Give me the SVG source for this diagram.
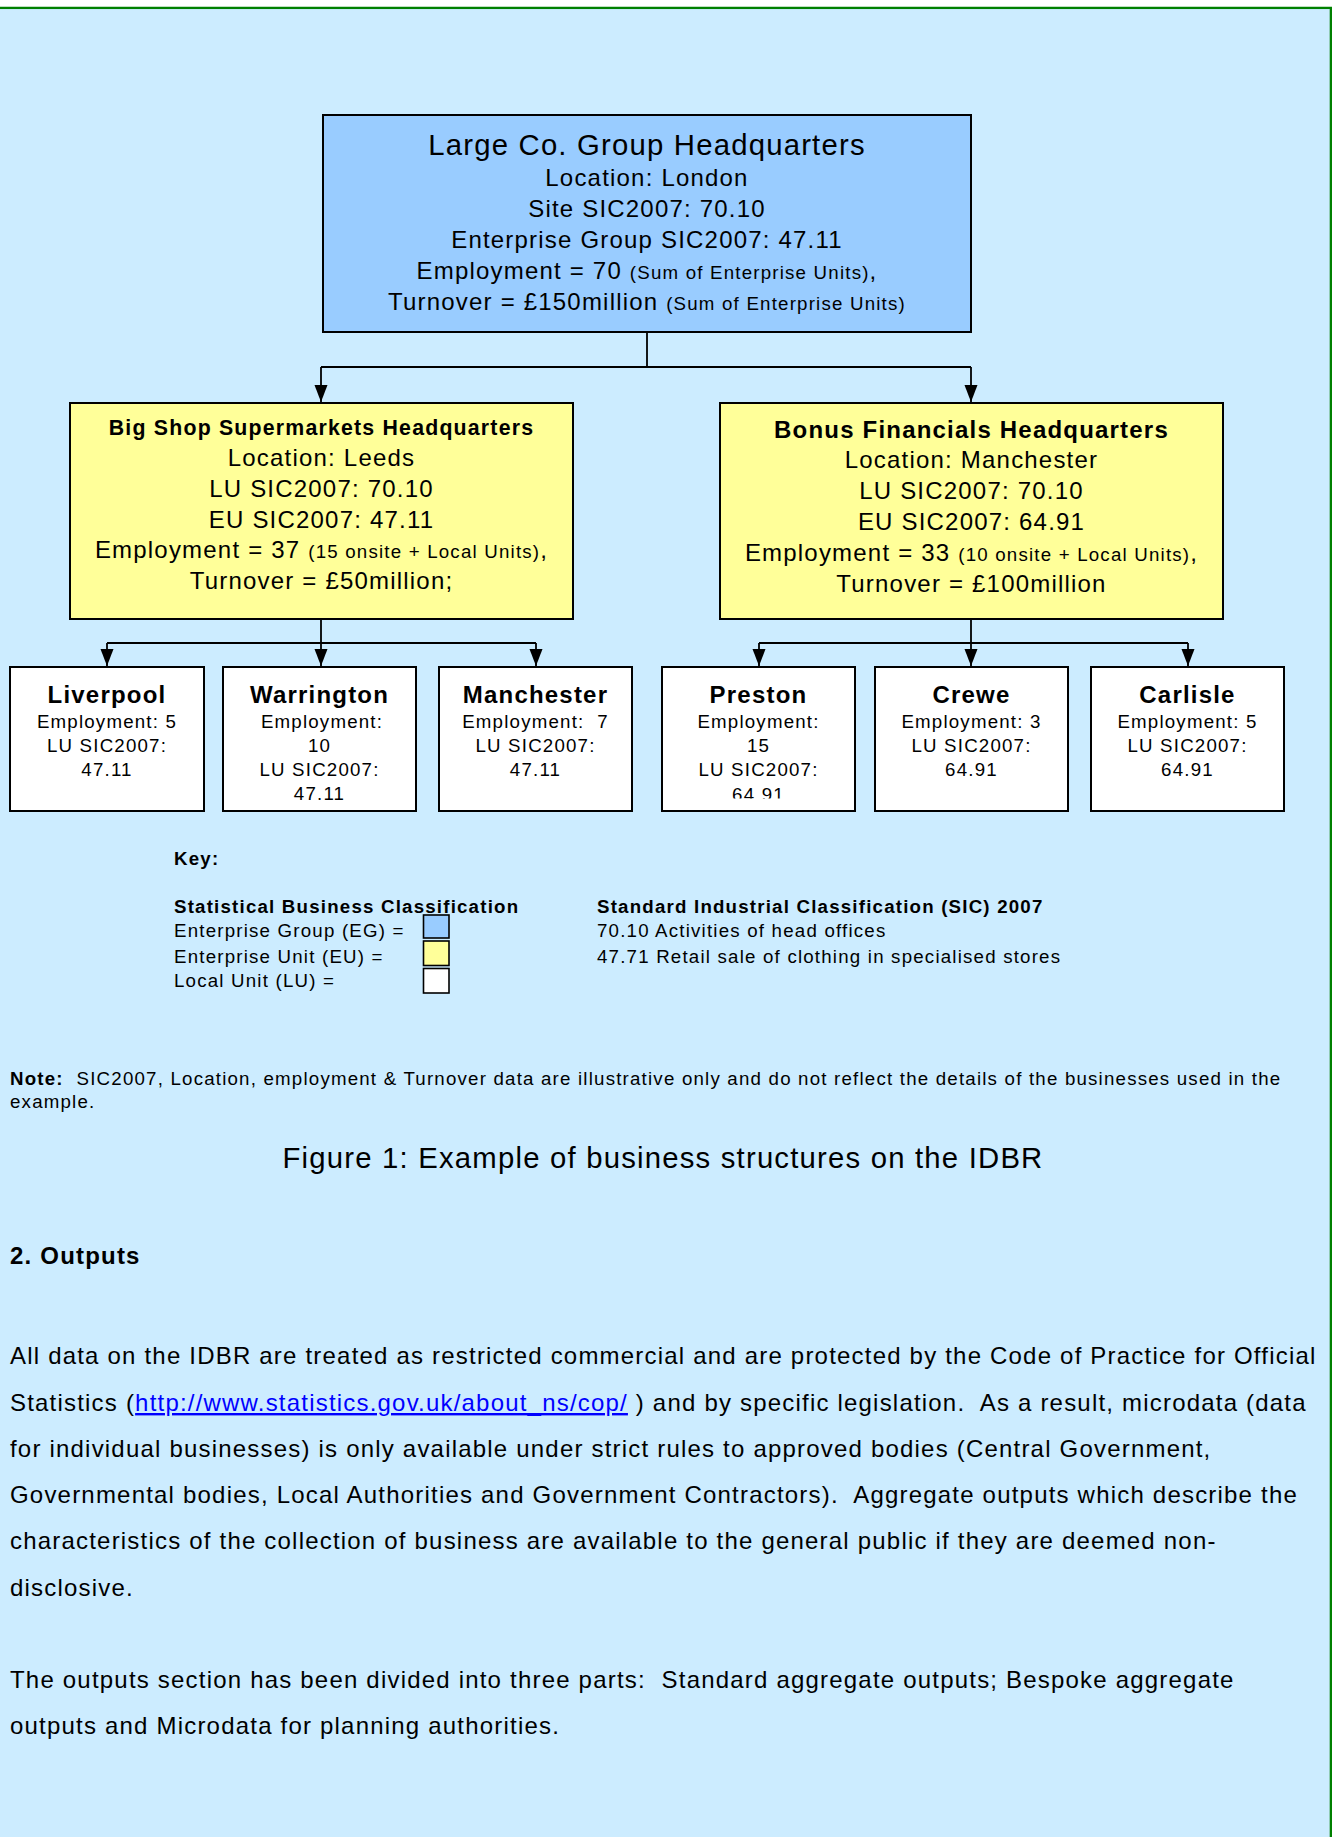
<svg xmlns="http://www.w3.org/2000/svg" width="1332" height="1837" viewBox="0 0 1332 1837" xml:space="preserve">
<style>
.t{font-family:"Liberation Sans",Arial,Helvetica,sans-serif;fill:#000;letter-spacing:1.2px;white-space:pre}
.c{text-anchor:middle}
.b{font-weight:bold}
.f29{font-size:29.3px}
.f24{font-size:24px}
.f21{font-size:21.3px}
.f19{font-size:18.7px}
.box{stroke:#000;stroke-width:2}
.eg{fill:#99CCFF}
.eu{fill:#FFFF99}
.lu{fill:#FFFFFF}
.con{fill:none;stroke:#000;stroke-width:1.8}
.arr{fill:none;stroke:#000;stroke-width:1.8;marker-end:url(#ah)}
.link{fill:#0000FF;text-decoration:underline}
</style>
<defs>
<marker id="ah" markerUnits="userSpaceOnUse" markerWidth="18" markerHeight="16" viewBox="0 -8 18 16" refX="17" refY="0" orient="auto">
<path d="M0,-6.5 L17,0 L0,6.5 z" fill="#000"/>
</marker>
<clipPath id="clipPreston"><rect x="662" y="667" width="193" height="131.5"/></clipPath>
</defs>
<rect x="0" y="0" width="1332" height="1837" fill="#FFFFFF"/>
<rect x="-5" y="7.9" width="1335.85" height="1845" fill="#CCECFF" stroke="#008000" stroke-width="2.3"/>

<g id="connectors">
<path class="con" d="M647,332 V367 M321,367 H971"/>
<path class="arr" d="M321,367 V402"/>
<path class="arr" d="M971,367 V402"/>
<path class="con" d="M321,619 V643 M107,643 H536"/>
<path class="arr" d="M107,643 V666"/>
<path class="arr" d="M321,643 V666"/>
<path class="arr" d="M536,643 V666"/>
<path class="con" d="M971,619 V643 M759,643 H1188"/>
<path class="arr" d="M759,643 V666"/>
<path class="arr" d="M971,643 V666"/>
<path class="arr" d="M1188,643 V666"/>
</g>

<g id="group-hq">
<rect class="box eg" x="323" y="115" width="648" height="217"/>
<text class="t c f29" x="647" y="155">Large Co. Group Headquarters</text>
<text class="t c f24" x="647" y="186">Location: London</text>
<text class="t c f24" x="647" y="217">Site SIC2007: 70.10</text>
<text class="t c f24" x="647" y="248">Enterprise Group SIC2007: 47.11</text>
<text class="t c f24" x="647" y="279">Employment = 70 <tspan class="f19">(Sum of Enterprise Units)</tspan>,</text>
<text class="t c f24" x="647" y="310">Turnover = £150million <tspan class="f19">(Sum of Enterprise Units)</tspan></text>
</g>

<g id="bigshop-hq">
<rect class="box eu" x="70" y="403" width="503" height="216"/>
<text class="t c b f21" x="321.5" y="435">Big Shop Supermarkets Headquarters</text>
<text class="t c f24" x="321.5" y="466">Location: Leeds</text>
<text class="t c f24" x="321.5" y="497">LU SIC2007: 70.10</text>
<text class="t c f24" x="321.5" y="528">EU SIC2007: 47.11</text>
<text class="t c f24" x="321.5" y="558">Employment = 37 <tspan class="f19">(15 onsite + Local Units)</tspan>,</text>
<text class="t c f24" x="321.5" y="589">Turnover = £50million;</text>
</g>

<g id="bonus-hq">
<rect class="box eu" x="720" y="403" width="503" height="216"/>
<text class="t c b f24" x="971.5" y="438">Bonus Financials Headquarters</text>
<text class="t c f24" x="971.5" y="468">Location: Manchester</text>
<text class="t c f24" x="971.5" y="499">LU SIC2007: 70.10</text>
<text class="t c f24" x="971.5" y="530">EU SIC2007: 64.91</text>
<text class="t c f24" x="971.5" y="561">Employment = 33 <tspan class="f19">(10 onsite + Local Units)</tspan>,</text>
<text class="t c f24" x="971.5" y="592">Turnover = £100million</text>
</g>

<g id="liverpool">
<rect class="box lu" x="10" y="667" width="194" height="144"/>
<text class="t c b f24" x="107" y="703">Liverpool</text>
<text class="t c f19" x="107" y="728">Employment: 5</text>
<text class="t c f19" x="107" y="752">LU SIC2007:</text>
<text class="t c f19" x="107" y="776">47.11</text>
</g>

<g id="warrington">
<rect class="box lu" x="223" y="667" width="193" height="144"/>
<text class="t c b f24" x="319.5" y="703">Warrington</text>
<text class="t c f19" x="322" y="728">Employment:</text>
<text class="t c f19" x="319.5" y="752">10</text>
<text class="t c f19" x="319.5" y="776">LU SIC2007:</text>
<text class="t c f19" x="319.5" y="800">47.11</text>
</g>

<g id="manchester">
<rect class="box lu" x="439" y="667" width="193" height="144"/>
<text class="t c b f24" x="535.5" y="703">Manchester</text>
<text class="t c f19" x="535.5" y="728">Employment:  7</text>
<text class="t c f19" x="535.5" y="752">LU SIC2007:</text>
<text class="t c f19" x="535.5" y="776">47.11</text>
</g>

<g id="preston">
<rect class="box lu" x="662" y="667" width="193" height="144"/>
<g clip-path="url(#clipPreston)">
<text class="t c b f24" x="758.5" y="703">Preston</text>
<text class="t c f19" x="758.5" y="728">Employment:</text>
<text class="t c f19" x="758.5" y="752">15</text>
<text class="t c f19" x="758.5" y="776">LU SIC2007:</text>
<text class="t c f19" x="758.5" y="801">64.91</text>
</g>
</g>

<g id="crewe">
<rect class="box lu" x="875" y="667" width="193" height="144"/>
<text class="t c b f24" x="971.5" y="703">Crewe</text>
<text class="t c f19" x="971.5" y="728">Employment: 3</text>
<text class="t c f19" x="971.5" y="752">LU SIC2007:</text>
<text class="t c f19" x="971.5" y="776">64.91</text>
</g>

<g id="carlisle">
<rect class="box lu" x="1091" y="667" width="193" height="144"/>
<text class="t c b f24" x="1187.5" y="703">Carlisle</text>
<text class="t c f19" x="1187.5" y="728">Employment: 5</text>
<text class="t c f19" x="1187.5" y="752">LU SIC2007:</text>
<text class="t c f19" x="1187.5" y="776">64.91</text>
</g>

<g id="key">
<text class="t b f19" x="174" y="865">Key:</text>
<text class="t b f19" x="174" y="913">Statistical Business Classification</text>
<text class="t f19" x="174" y="937">Enterprise Group (EG) =</text>
<text class="t f19" x="174" y="963">Enterprise Unit (EU) =</text>
<text class="t f19" x="174" y="987">Local Unit (LU) =</text>
<rect class="eg" x="423.5" y="915" width="25.5" height="23" stroke="#000" stroke-width="1.6"/>
<rect class="eu" x="423.5" y="941" width="25.5" height="24.5" stroke="#000" stroke-width="1.6"/>
<rect class="lu" x="423.5" y="968.5" width="25.5" height="24.5" stroke="#000" stroke-width="1.6"/>
<text class="t b f19" x="597" y="913">Standard Industrial Classification (SIC) 2007</text>
<text class="t f19" x="597" y="937">70.10 Activities of head offices</text>
<text class="t f19" x="597" y="963">47.71 Retail sale of clothing in specialised stores</text>
</g>

<g id="notes">
<text class="t f19" x="10" y="1085"><tspan class="b">Note:</tspan>  SIC2007, Location, employment &amp; Turnover data are illustrative only and do not reflect the details of the businesses used in the</text>
<text class="t f19" x="10" y="1108">example.</text>
<text class="t c f29" x="663" y="1168">Figure 1: Example of business structures on the IDBR</text>
<text class="t b f24" x="10" y="1264">2. Outputs</text>
<text class="t f24" x="10" y="1364">All data on the IDBR are treated as restricted commercial and are protected by the Code of Practice for Official</text>
<text class="t f24" x="10" y="1411">Statistics (<tspan class="link">http://www.statistics.gov.uk/about_ns/cop/</tspan> ) and by specific legislation.  As a result, microdata (data</text>
<text class="t f24" x="10" y="1457">for individual businesses) is only available under strict rules to approved bodies (Central Government,</text>
<text class="t f24" x="10" y="1503">Governmental bodies, Local Authorities and Government Contractors).  Aggregate outputs which describe the</text>
<text class="t f24" x="10" y="1549">characteristics of the collection of business are available to the general public if they are deemed non-</text>
<text class="t f24" x="10" y="1596">disclosive.</text>
<text class="t f24" x="10" y="1688">The outputs section has been divided into three parts:  Standard aggregate outputs; Bespoke aggregate</text>
<text class="t f24" x="10" y="1734">outputs and Microdata for planning authorities.</text>
</g>
</svg>
